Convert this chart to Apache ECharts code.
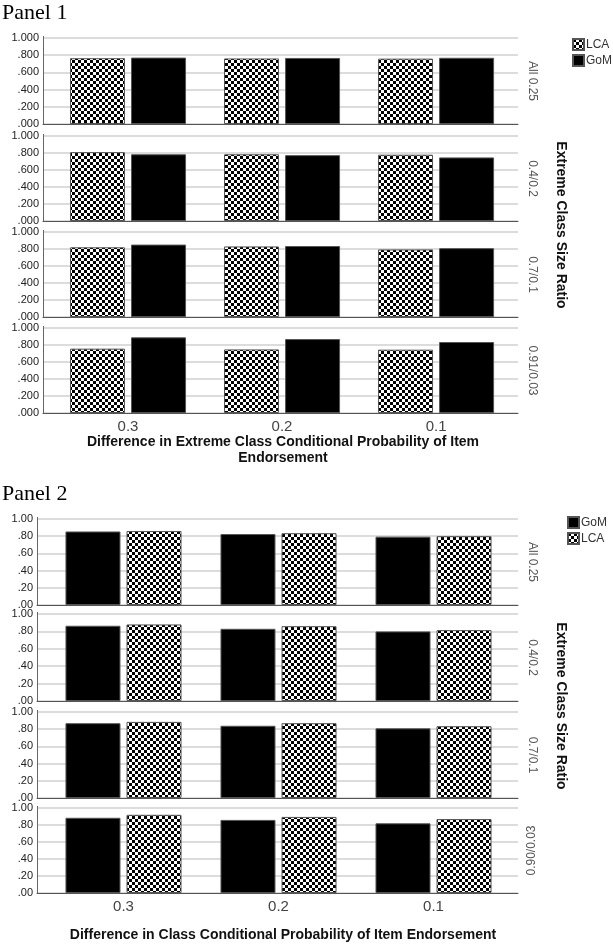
<!DOCTYPE html>
<html><head><meta charset="utf-8">
<script src="https://cdn.jsdelivr.net/npm/echarts@6/dist/echarts.min.js"></script>
<style>html,body{margin:0;padding:0;background:#fff}#c{width:613px;height:946px}</style>
</head><body><div id="c"></div>
<script>
// ---- data ----
const categories = ['0.3', '0.2', '0.1'];
const rowLabels1 = ['All 0.25', '0.4/0.2', '0.7/0.1', '0.91/0.03'];
const rowLabels2 = ['All 0.25', '0.4/0.2', '0.7/0.1', '0.90/0.03'];
// Panel 1 (LCA first, GoM second)
const p1LCA = [[0.765, 0.762, 0.760], [0.810, 0.785, 0.780], [0.820, 0.830, 0.795], [0.757, 0.748, 0.745]];
const p1GoM = [[0.772, 0.768, 0.770], [0.785, 0.775, 0.748], [0.852, 0.835, 0.810], [0.890, 0.870, 0.835]];
// Panel 2 (GoM first, LCA second)
const p2GoM = [[0.855, 0.825, 0.795], [0.865, 0.830, 0.800], [0.870, 0.840, 0.810], [0.885, 0.860, 0.820]];
const p2LCA = [[0.860, 0.835, 0.800], [0.880, 0.860, 0.815], [0.885, 0.870, 0.835], [0.920, 0.895, 0.870]];
const xTitle1 = 'Difference in Extreme Class Conditional Probability of Item\nEndorsement';
const xTitle2 = 'Difference in Class Conditional Probability of Item Endorsement';
const sideTitle = 'Extreme Class Size Ratio';

// ---- checker pattern ----
function checker() {
  const s = 3, cv = document.createElement('canvas');
  cv.width = s * 2; cv.height = s * 2;
  const g = cv.getContext('2d');
  g.fillStyle = '#fff'; g.fillRect(0, 0, s * 2, s * 2);
  g.fillStyle = '#000'; g.fillRect(0, 0, s, s); g.fillRect(s, s, s, s);
  return cv;
}
const checkFill = { image: checker(), repeat: 'repeat' };
const blackFill = '#000';

const FONT = 'Liberation Sans, Arial, sans-serif';
const grids = [], xAxes = [], yAxes = [], series = [], graphics = [];

// category slot i sits at x = pad + 0.5 + i on a value axis running from 0 to xmax
function addPanel(tops, heights, left, right, pad, xmax, dec, firstName, firstData, firstFill, secondName, secondData, secondFill, rowLabels, flipLast) {
  const slots = categories.map((c, i) => pad + 0.5 + i);
  for (let r = 0; r < 4; r++) {
    const gi = grids.length;
    grids.push({ left: left, right: right, top: tops[r], height: heights[r] });
    const last = r === 3;
    xAxes.push({
      gridIndex: gi, type: 'value', min: 0, max: xmax, position: 'bottom',
      axisLine: { show: true, lineStyle: { color: '#555', width: 1 } },
      axisTick: { show: false }, splitLine: { show: false },
      axisLabel: {
        show: last, customValues: slots,
        formatter: v => categories[Math.round(v - pad - 0.5)] || '',
        color: '#444', fontSize: 15, fontFamily: FONT, margin: 6
      }
    });
    yAxes.push({
      gridIndex: gi, type: 'value', min: 0, max: 1, interval: 0.2, position: 'left',
      axisLine: { show: true, lineStyle: { color: '#555', width: 1 } },
      axisTick: { show: false },
      splitLine: { show: true, lineStyle: { color: '#d0d0d0', width: 1.5 } },
      axisLabel: {
        color: '#222', fontSize: 11, fontFamily: FONT, margin: 4,
        formatter: v => { const s = v.toFixed(dec); return s.startsWith('0') ? s.slice(1) : s; }
      }
    });
    const mk = (name, vals, fill) => ({
      type: 'bar', name: name, xAxisIndex: gi, yAxisIndex: gi,
      data: vals.map((v, i) => [slots[i], v]),
      barWidth: 55, barGap: '11%',
      itemStyle: { color: fill, borderColor: '#555', borderWidth: 1 },
      emphasis: { disabled: true }, animation: false, z: 3
    });
    series.push(mk(firstName, firstData[r], firstFill));
    series.push(mk(secondName, secondData[r], secondFill));
    // vertical axis rule along the grid's left edge
    graphics.push({
      type: 'line', z: 10,
      shape: { x1: left + 0.5, y1: tops[r] - 2, x2: left + 0.5, y2: tops[r] + heights[r] },
      style: { stroke: '#666', lineWidth: 1 }
    });
    const flip = flipLast && last;
    graphics.push({
      type: 'text', x: 532, y: tops[r] + heights[r] / 2,
      rotation: flip ? Math.PI / 2 : -Math.PI / 2,
      style: { text: rowLabels[r], fill: '#555', font: '12px ' + FONT, textAlign: 'center', textVerticalAlign: 'middle', verticalAlign: 'middle' }
    });
  }
}

addPanel([38, 136, 232, 328], [86, 85, 85, 85], 43, 95, 0.052, 3.084, 3,
  'LCA', p1LCA, checkFill, 'GoM', p1GoM, blackFill, rowLabels1, false);
addPanel([519, 614, 712, 808], [86, 87, 86, 85], 37, 95, 0.058, 3.103, 2,
  'GoM', p2GoM, blackFill, 'LCA', p2LCA, checkFill, rowLabels2, true);

graphics.push(
  { type: 'text', x: 2, y: 2, style: { text: 'Panel 1', fill: '#000', font: '22px Liberation Serif, Times New Roman, serif' } },
  { type: 'text', x: 2, y: 483, style: { text: 'Panel 2', fill: '#000', font: '22px Liberation Serif, Times New Roman, serif' } },
  { type: 'text', x: 283, y: 450, style: { text: xTitle1, fill: '#111', font: 'bold 14px ' + FONT, textAlign: 'center', textVerticalAlign: 'middle', verticalAlign: 'middle', lineHeight: 16 } },
  { type: 'text', x: 283, y: 935, style: { text: xTitle2, fill: '#111', font: 'bold 14px ' + FONT, textAlign: 'center', textVerticalAlign: 'middle', verticalAlign: 'middle' } },
  { type: 'text', x: 561, y: 225, rotation: -Math.PI / 2, style: { text: sideTitle, fill: '#111', font: 'bold 14px ' + FONT, textAlign: 'center', textVerticalAlign: 'middle', verticalAlign: 'middle' } },
  { type: 'text', x: 561, y: 706, rotation: -Math.PI / 2, style: { text: sideTitle, fill: '#111', font: 'bold 14px ' + FONT, textAlign: 'center', textVerticalAlign: 'middle', verticalAlign: 'middle' } }
);

const legendBase = {
  orient: 'vertical', itemWidth: 11, itemHeight: 11, itemGap: 3, icon: 'rect',
  selectedMode: false, textStyle: { color: '#333', fontSize: 12, fontFamily: FONT, padding: [0, 0, 0, -3] },
  padding: 0
};
const chart = echarts.init(document.getElementById('c'), null, { renderer: 'canvas' });
chart.setOption({
  animation: false,
  backgroundColor: '#fff',
  grid: grids, xAxis: xAxes, yAxis: yAxes, series: series,
  legend: [
    Object.assign({}, legendBase, { left: 572, top: 38, data: ['LCA', 'GoM'] }),
    Object.assign({}, legendBase, { left: 567, top: 516, data: ['GoM', 'LCA'] })
  ],
  graphic: graphics
});
</script></body></html>
